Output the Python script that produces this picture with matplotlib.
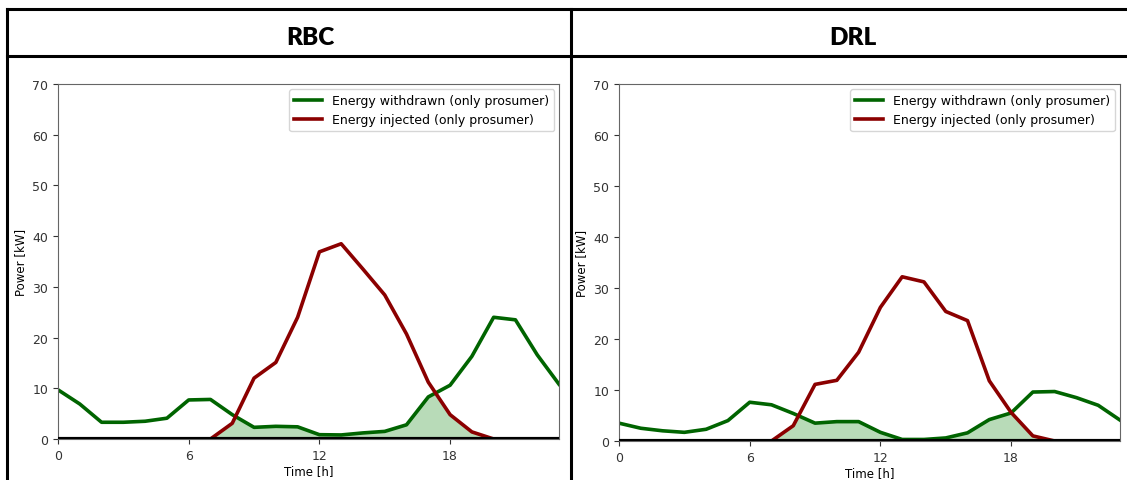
import numpy as np
import matplotlib
matplotlib.use("Agg")
import matplotlib.pyplot as plt
from matplotlib.lines import Line2D

hours = list(range(24))

# RBC
rbc_withdrawn = [9.7, 6.9, 3.3, 3.3, 3.5, 4.1, 7.7, 7.8, 4.8, 2.3, 2.5, 2.4,
                 0.85, 0.8, 1.2, 1.5, 2.8, 8.3, 10.6, 16.3, 24.0, 23.5, 16.6, 10.8]
rbc_injected = [0, 0, 0, 0, 0, 0, 0, 0, 3.1, 12.0, 15.1, 24.0,
                36.9, 38.5, 33.5, 28.4, 20.7, 11.2, 4.8, 1.4, 0, 0, 0, 0]

# DRL
drl_withdrawn = [3.5, 2.5, 2.0, 1.7, 2.3, 4.0, 7.6, 7.1, 5.4, 3.5, 3.8, 3.8,
                 1.7, 0.3, 0.3, 0.6, 1.6, 4.2, 5.5, 9.6, 9.7, 8.5, 7.0, 4.1]
drl_injected = [0, 0, 0, 0, 0, 0, 0, 0, 3.0, 11.1, 11.9, 17.4,
                26.2, 32.2, 31.2, 25.4, 23.6, 11.8, 5.6, 1.0, 0, 0, 0, 0]

titles = ["RBC", "DRL"]
xticks = [0, 6, 12, 18]

W, H = 1127, 481
fig = plt.figure(figsize=(W / 100, H / 100), dpi=100)


def panel(rect, withdrawn, injected):
    ax = fig.add_axes(rect)
    w = np.array(withdrawn, dtype=float)
    inj = np.array(injected, dtype=float)
    # shared area under both curves (fine grid only for the fill shape)
    xf = np.linspace(0, 23, 2301)
    fill_top = np.minimum(np.interp(xf, hours, w), np.interp(xf, hours, inj))
    ax.fill_between(xf, 0, fill_top, color="green", alpha=0.28, lw=0)
    ax.plot(hours, w, color="darkgreen", lw=2.6, label="Energy withdrawn (only prosumer)")
    ax.plot(hours, inj, color="darkred", lw=2.6, label="Energy injected (only prosumer)")
    ax.axhline(0, color="black", lw=3, zorder=3)
    ax.set_xlim(0, 23)
    ax.set_ylim(0, 70)
    ax.set_xticks(xticks)
    ax.tick_params(labelsize=9, colors="#333333")
    for s in ax.spines.values():
        s.set_color("#666666")
    ax.set_xlabel("Time [h]", fontsize=8.5, labelpad=2)
    ax.set_ylabel("Power [kW]", fontsize=8.5, labelpad=4)
    ax.legend(loc="upper right", fontsize=9, handlelength=2.2, borderaxespad=0.4)
    return ax


panel([58 / W, 41 / H, 501 / W, 355 / H], rbc_withdrawn, rbc_injected)
panel([619 / W, 39 / H, 501 / W, 357 / H], drl_withdrawn, drl_injected)

# table frame
def hline(y, x0, x1):
    fig.add_artist(Line2D([x0 / W, x1 / W], [1 - y / H, 1 - y / H], color="black", lw=2.2))

def vline(x, y0, y1):
    fig.add_artist(Line2D([x / W, x / W], [1 - y0 / H, 1 - y1 / H], color="black", lw=2.2))

hline(10, 7, W)
hline(57, 7, W)
vline(7, 10, H)
vline(571, 10, H)

fig.text(310 / W, 1 - 38 / H, titles[0], fontsize=17.5, fontweight="heavy",
         family="Lato", ha="center", va="center")
fig.text(853 / W, 1 - 38 / H, titles[1], fontsize=17.5, fontweight="heavy",
         family="Lato", ha="center", va="center")

fig.savefig("out.png", dpi=100)
